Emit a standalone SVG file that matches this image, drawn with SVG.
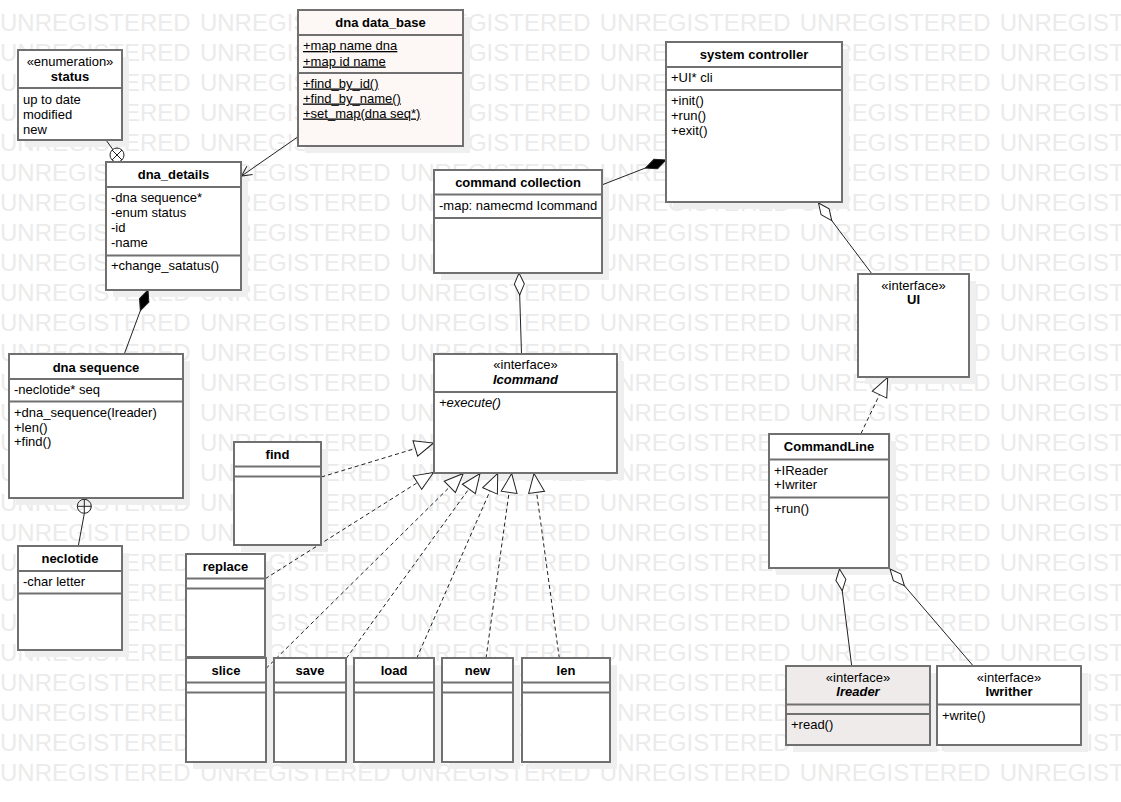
<svg xmlns="http://www.w3.org/2000/svg" width="1121" height="802" viewBox="0 0 1121 802">
<style>
.wm{font-family:"Liberation Sans",Arial,sans-serif;font-size:24px;fill:#ebebeb;word-spacing:2.6px}
.sh{fill:#efefef}
.box{fill:#ffffff;stroke:#707070;stroke-width:2}
.pink{fill:#fdf8f6}
.grey{fill:#eeebea}
.dv{stroke:#707070;stroke-width:2}
.t{font-family:"Liberation Sans",Arial,sans-serif;font-size:13px;fill:#000}
.c{text-anchor:middle}
.b{font-weight:bold}
.i{font-style:italic}
.u{text-decoration:underline}
.conn{stroke:#222;stroke-width:1;fill:none}
.dash{stroke-dasharray:4 3}
</style>
<defs>
<marker id="tri" viewBox="0 0 21 18" refX="20" refY="9" markerWidth="21" markerHeight="18" markerUnits="userSpaceOnUse" orient="auto">
<path d="M1,1 L20,9 L1,17 Z" fill="#fff" stroke="#222" stroke-width="1" stroke-dasharray="none"/>
</marker>
<marker id="hd" viewBox="0 0 24 12" refX="1" refY="6" markerWidth="24" markerHeight="12" markerUnits="userSpaceOnUse" orient="auto">
<path d="M1,6 L12,1 L23,6 L12,11 Z" fill="#fff" stroke="#222" stroke-width="1"/>
</marker>
<marker id="fd" viewBox="0 0 24 12" refX="1" refY="6" markerWidth="24" markerHeight="12" markerUnits="userSpaceOnUse" orient="auto">
<path d="M1,6 L12,1 L23,6 L12,11 Z" fill="#000" stroke="#222" stroke-width="1"/>
</marker>
<marker id="open" viewBox="0 0 12 12" refX="11" refY="6" markerWidth="12" markerHeight="12" markerUnits="userSpaceOnUse" orient="auto">
<path d="M1,1 L11,6 L1,11" fill="none" stroke="#222" stroke-width="1"/>
</marker>
</defs>
<rect width="1121" height="802" fill="#fff"/>
<g id="watermark">
<text class="wm" x="0" y="31">UNREGISTERED UNREGISTERED UNREGISTERED UNREGISTERED UNREGISTERED UNREGISTERED</text>
<text class="wm" x="0" y="61">UNREGISTERED UNREGISTERED UNREGISTERED UNREGISTERED UNREGISTERED UNREGISTERED</text>
<text class="wm" x="0" y="91">UNREGISTERED UNREGISTERED UNREGISTERED UNREGISTERED UNREGISTERED UNREGISTERED</text>
<text class="wm" x="0" y="121">UNREGISTERED UNREGISTERED UNREGISTERED UNREGISTERED UNREGISTERED UNREGISTERED</text>
<text class="wm" x="0" y="151">UNREGISTERED UNREGISTERED UNREGISTERED UNREGISTERED UNREGISTERED UNREGISTERED</text>
<text class="wm" x="0" y="181">UNREGISTERED UNREGISTERED UNREGISTERED UNREGISTERED UNREGISTERED UNREGISTERED</text>
<text class="wm" x="0" y="211">UNREGISTERED UNREGISTERED UNREGISTERED UNREGISTERED UNREGISTERED UNREGISTERED</text>
<text class="wm" x="0" y="241">UNREGISTERED UNREGISTERED UNREGISTERED UNREGISTERED UNREGISTERED UNREGISTERED</text>
<text class="wm" x="0" y="271">UNREGISTERED UNREGISTERED UNREGISTERED UNREGISTERED UNREGISTERED UNREGISTERED</text>
<text class="wm" x="0" y="301">UNREGISTERED UNREGISTERED UNREGISTERED UNREGISTERED UNREGISTERED UNREGISTERED</text>
<text class="wm" x="0" y="331">UNREGISTERED UNREGISTERED UNREGISTERED UNREGISTERED UNREGISTERED UNREGISTERED</text>
<text class="wm" x="0" y="361">UNREGISTERED UNREGISTERED UNREGISTERED UNREGISTERED UNREGISTERED UNREGISTERED</text>
<text class="wm" x="0" y="391">UNREGISTERED UNREGISTERED UNREGISTERED UNREGISTERED UNREGISTERED UNREGISTERED</text>
<text class="wm" x="0" y="421">UNREGISTERED UNREGISTERED UNREGISTERED UNREGISTERED UNREGISTERED UNREGISTERED</text>
<text class="wm" x="0" y="451">UNREGISTERED UNREGISTERED UNREGISTERED UNREGISTERED UNREGISTERED UNREGISTERED</text>
<text class="wm" x="0" y="481">UNREGISTERED UNREGISTERED UNREGISTERED UNREGISTERED UNREGISTERED UNREGISTERED</text>
<text class="wm" x="0" y="511">UNREGISTERED UNREGISTERED UNREGISTERED UNREGISTERED UNREGISTERED UNREGISTERED</text>
<text class="wm" x="0" y="541">UNREGISTERED UNREGISTERED UNREGISTERED UNREGISTERED UNREGISTERED UNREGISTERED</text>
<text class="wm" x="0" y="571">UNREGISTERED UNREGISTERED UNREGISTERED UNREGISTERED UNREGISTERED UNREGISTERED</text>
<text class="wm" x="0" y="601">UNREGISTERED UNREGISTERED UNREGISTERED UNREGISTERED UNREGISTERED UNREGISTERED</text>
<text class="wm" x="0" y="631">UNREGISTERED UNREGISTERED UNREGISTERED UNREGISTERED UNREGISTERED UNREGISTERED</text>
<text class="wm" x="0" y="661">UNREGISTERED UNREGISTERED UNREGISTERED UNREGISTERED UNREGISTERED UNREGISTERED</text>
<text class="wm" x="0" y="691">UNREGISTERED UNREGISTERED UNREGISTERED UNREGISTERED UNREGISTERED UNREGISTERED</text>
<text class="wm" x="0" y="721">UNREGISTERED UNREGISTERED UNREGISTERED UNREGISTERED UNREGISTERED UNREGISTERED</text>
<text class="wm" x="0" y="751">UNREGISTERED UNREGISTERED UNREGISTERED UNREGISTERED UNREGISTERED UNREGISTERED</text>
<text class="wm" x="0" y="781">UNREGISTERED UNREGISTERED UNREGISTERED UNREGISTERED UNREGISTERED UNREGISTERED</text>
</g>
<g id="shadows">
<rect class="sh" x="25" y="57" width="104" height="90"/>
<rect class="sh" x="305" y="17" width="165" height="136"/>
<rect class="sh" x="113" y="169" width="135" height="128"/>
<rect class="sh" x="441" y="177" width="168" height="103"/>
<rect class="sh" x="673" y="49" width="176" height="160"/>
<rect class="sh" x="865" y="281" width="111" height="103"/>
<rect class="sh" x="441" y="361" width="183" height="119"/>
<rect class="sh" x="776" y="441" width="120" height="134"/>
<rect class="sh" x="793" y="673" width="144" height="79"/>
<rect class="sh" x="944" y="673" width="144" height="79"/>
<rect class="sh" x="16" y="361" width="174" height="144"/>
<rect class="sh" x="25" y="553" width="104" height="104"/>
<rect class="sh" x="241" y="449" width="87" height="103"/>
<rect class="sh" x="193" y="561" width="79" height="103"/>
<rect class="sh" x="193" y="665" width="80" height="104"/>
<rect class="sh" x="281" y="665" width="72" height="104"/>
<rect class="sh" x="361" y="665" width="80" height="104"/>
<rect class="sh" x="449" y="665" width="71" height="104"/>
<rect class="sh" x="529" y="665" width="88" height="104"/>
</g>
<g id="connectors">
<line class="conn" x1="297.7" y1="137" x2="241.5" y2="176" marker-end="url(#open)"/>
<line class="conn" x1="666" y1="160" x2="601.7" y2="185" marker-start="url(#fd)"/>
<line class="conn" x1="148" y1="290" x2="124.3" y2="354" marker-start="url(#fd)"/>
<line class="conn" x1="519" y1="273" x2="521.5" y2="354" marker-start="url(#hd)"/>
<line class="conn" x1="818.5" y1="203" x2="872" y2="274" marker-start="url(#hd)"/>
<line class="conn" x1="839.5" y1="569" x2="851.7" y2="666" marker-start="url(#hd)"/>
<line class="conn" x1="890" y1="569" x2="973.3" y2="666" marker-start="url(#hd)"/>
<line class="conn dash" x1="861" y1="433.5" x2="887.7" y2="377.5" marker-end="url(#tri)"/>
<line class="conn dash" x1="321.3" y1="477" x2="433.5" y2="443" marker-end="url(#tri)"/>
<line class="conn dash" x1="265.3" y1="578.7" x2="433.5" y2="472.5" marker-end="url(#tri)"/>
<line class="conn dash" x1="266" y1="668.5" x2="463.3" y2="473.5" marker-end="url(#tri)"/>
<line class="conn dash" x1="346.3" y1="658.3" x2="480" y2="473.5" marker-end="url(#tri)"/>
<line class="conn dash" x1="416.7" y1="658.3" x2="497.7" y2="473.5" marker-end="url(#tri)"/>
<line class="conn dash" x1="486" y1="658.3" x2="511.7" y2="473.5" marker-end="url(#tri)"/>
<line class="conn dash" x1="559.3" y1="658.3" x2="534" y2="473.5" marker-end="url(#tri)"/>
<line class="conn" x1="106" y1="140" x2="112.8" y2="149.4"/>
<circle class="conn" cx="117" cy="155" r="7" fill="#fff"/>
<line class="conn" x1="112" y1="150" x2="122" y2="160"/>
<line class="conn" x1="122" y1="150" x2="112" y2="160"/>
<line class="conn" x1="84.3" y1="513.5" x2="78.3" y2="546"/>
<circle class="conn" cx="84.3" cy="506.3" r="7" fill="#fff"/>
<line class="conn" x1="84.3" y1="499.3" x2="84.3" y2="513.3"/>
<line class="conn" x1="77.3" y1="506.3" x2="91.3" y2="506.3"/>
</g>
<g id="status">
<rect class="box" x="18" y="50" width="104" height="90"/>
<line class="dv" x1="18" y1="88" x2="122" y2="88"/>
<text class="t c" x="70" y="65.5">«enumeration»</text>
<text class="t c b" x="70" y="80.5">status</text>
<text class="t" x="23" y="103.5">up to date</text>
<text class="t" x="23" y="118.5">modified</text>
<text class="t" x="23" y="133.5">new</text>
</g>
<g id="dna-data-base">
<rect class="box pink" x="298" y="10" width="165" height="136"/>
<line class="dv" x1="298" y1="35" x2="463" y2="35"/>
<line class="dv" x1="298" y1="73" x2="463" y2="73"/>
<text class="t c b" x="380.5" y="27">dna data_base</text>
<text class="t u" x="303" y="50">+map name dna</text>
<text class="t u" x="303" y="65.5">+map id name</text>
<text class="t u" x="303" y="87.5">+find_by_id()</text>
<text class="t u" x="303" y="102.5">+find_by_name()</text>
<text class="t u" x="303" y="117.5">+set_map(dna seq*)</text>
</g>
<g id="dna-details">
<rect class="box" x="106" y="162" width="135" height="128"/>
<line class="dv" x1="106" y1="187" x2="241" y2="187"/>
<line class="dv" x1="106" y1="255.5" x2="241" y2="255.5"/>
<text class="t c b" x="173.5" y="179">dna_details</text>
<text class="t" x="111" y="202">-dna sequence*</text>
<text class="t" x="111" y="216.5">-enum status</text>
<text class="t" x="111" y="231.5">-id</text>
<text class="t" x="111" y="246.5">-name</text>
<text class="t" x="111" y="270">+change_satatus()</text>
</g>
<g id="command-collection">
<rect class="box" x="434" y="170" width="168" height="103"/>
<line class="dv" x1="434" y1="194.5" x2="602" y2="194.5"/>
<line class="dv" x1="434" y1="218" x2="602" y2="218"/>
<text class="t c b" x="518" y="187">command collection</text>
<text class="t" x="439" y="210">-map: namecmd Icommand</text>
</g>
<g id="system-controller">
<rect class="box" x="666" y="42" width="176" height="160"/>
<line class="dv" x1="666" y1="67" x2="842" y2="67"/>
<line class="dv" x1="666" y1="90" x2="842" y2="90"/>
<text class="t c b" x="754" y="59">system controller</text>
<text class="t" x="671" y="82">+UI* cli</text>
<text class="t" x="671" y="105">+init()</text>
<text class="t" x="671" y="120">+run()</text>
<text class="t" x="671" y="134.5">+exit()</text>
</g>
<g id="ui">
<rect class="box" x="858" y="274" width="111" height="103"/>
<text class="t c" x="913.5" y="289.5">«interface»</text>
<text class="t c b" x="913.5" y="304">UI</text>
</g>
<g id="icommand">
<rect class="box" x="434" y="354" width="183" height="119"/>
<line class="dv" x1="434" y1="392" x2="617" y2="392"/>
<text class="t c" x="525.5" y="369">«interface»</text>
<text class="t c b i" x="525.5" y="384">Icommand</text>
<text class="t i" x="439" y="407">+execute()</text>
</g>
<g id="commandline">
<rect class="box" x="769" y="434" width="120" height="134"/>
<line class="dv" x1="769" y1="459.5" x2="889" y2="459.5"/>
<line class="dv" x1="769" y1="497.5" x2="889" y2="497.5"/>
<text class="t c b" x="829" y="451">CommandLine</text>
<text class="t" x="774" y="474.5">+IReader</text>
<text class="t" x="774" y="489">+Iwriter</text>
<text class="t" x="774" y="513">+run()</text>
</g>
<g id="ireader">
<rect class="box grey" x="786" y="666" width="144" height="79"/>
<line class="dv" x1="786" y1="704.5" x2="930" y2="704.5"/>
<line class="dv" x1="786" y1="714" x2="930" y2="714"/>
<text class="t c" x="858" y="682">«interface»</text>
<text class="t c b i" x="858" y="696">Ireader</text>
<text class="t" x="791" y="729">+read()</text>
</g>
<g id="iwrither">
<rect class="box" x="937" y="666" width="144" height="79"/>
<line class="dv" x1="937" y1="704.5" x2="1081" y2="704.5"/>
<text class="t c" x="1009" y="682">«interface»</text>
<text class="t c b" x="1009" y="696">Iwrither</text>
<text class="t" x="942" y="720">+write()</text>
</g>
<g id="dna-sequence">
<rect class="box" x="9" y="354" width="174" height="144"/>
<line class="dv" x1="9" y1="379" x2="183" y2="379"/>
<line class="dv" x1="9" y1="401.5" x2="183" y2="401.5"/>
<text class="t c b" x="96" y="372">dna sequence</text>
<text class="t" x="14" y="394">-neclotide* seq</text>
<text class="t" x="14" y="417">+dna_sequence(Ireader)</text>
<text class="t" x="14" y="431.5">+len()</text>
<text class="t" x="14" y="446">+find()</text>
</g>
<g id="neclotide">
<rect class="box" x="18" y="546" width="104" height="104"/>
<line class="dv" x1="18" y1="571" x2="122" y2="571"/>
<line class="dv" x1="18" y1="593.5" x2="122" y2="593.5"/>
<text class="t c b" x="70" y="563">neclotide</text>
<text class="t" x="23" y="586">-char letter</text>
</g>
<g id="find">
<rect class="box" x="234" y="442" width="87" height="103"/>
<line class="dv" x1="234" y1="466.5" x2="321" y2="466.5"/>
<line class="dv" x1="234" y1="476.5" x2="321" y2="476.5"/>
<text class="t c b" x="277.5" y="459">find</text>
</g>
<g id="replace">
<rect class="box" x="186" y="554" width="79" height="103"/>
<line class="dv" x1="186" y1="578.5" x2="265" y2="578.5"/>
<line class="dv" x1="186" y1="588.5" x2="265" y2="588.5"/>
<text class="t c b" x="225.5" y="571">replace</text>
</g>
<g id="slice">
<rect class="box" x="186" y="658" width="80" height="104"/>
<line class="dv" x1="186" y1="682.5" x2="266" y2="682.5"/>
<line class="dv" x1="186" y1="692.5" x2="266" y2="692.5"/>
<text class="t c b" x="226" y="675">slice</text>
</g>
<g id="save">
<rect class="box" x="274" y="658" width="72" height="104"/>
<line class="dv" x1="274" y1="682.5" x2="346" y2="682.5"/>
<line class="dv" x1="274" y1="692.5" x2="346" y2="692.5"/>
<text class="t c b" x="310" y="675">save</text>
</g>
<g id="load">
<rect class="box" x="354" y="658" width="80" height="104"/>
<line class="dv" x1="354" y1="682.5" x2="434" y2="682.5"/>
<line class="dv" x1="354" y1="692.5" x2="434" y2="692.5"/>
<text class="t c b" x="394" y="675">load</text>
</g>
<g id="new">
<rect class="box" x="442" y="658" width="71" height="104"/>
<line class="dv" x1="442" y1="682.5" x2="513" y2="682.5"/>
<line class="dv" x1="442" y1="692.5" x2="513" y2="692.5"/>
<text class="t c b" x="477.5" y="675">new</text>
</g>
<g id="len">
<rect class="box" x="522" y="658" width="88" height="104"/>
<line class="dv" x1="522" y1="682.5" x2="610" y2="682.5"/>
<line class="dv" x1="522" y1="692.5" x2="610" y2="692.5"/>
<text class="t c b" x="566" y="675">len</text>
</g>
</svg>
